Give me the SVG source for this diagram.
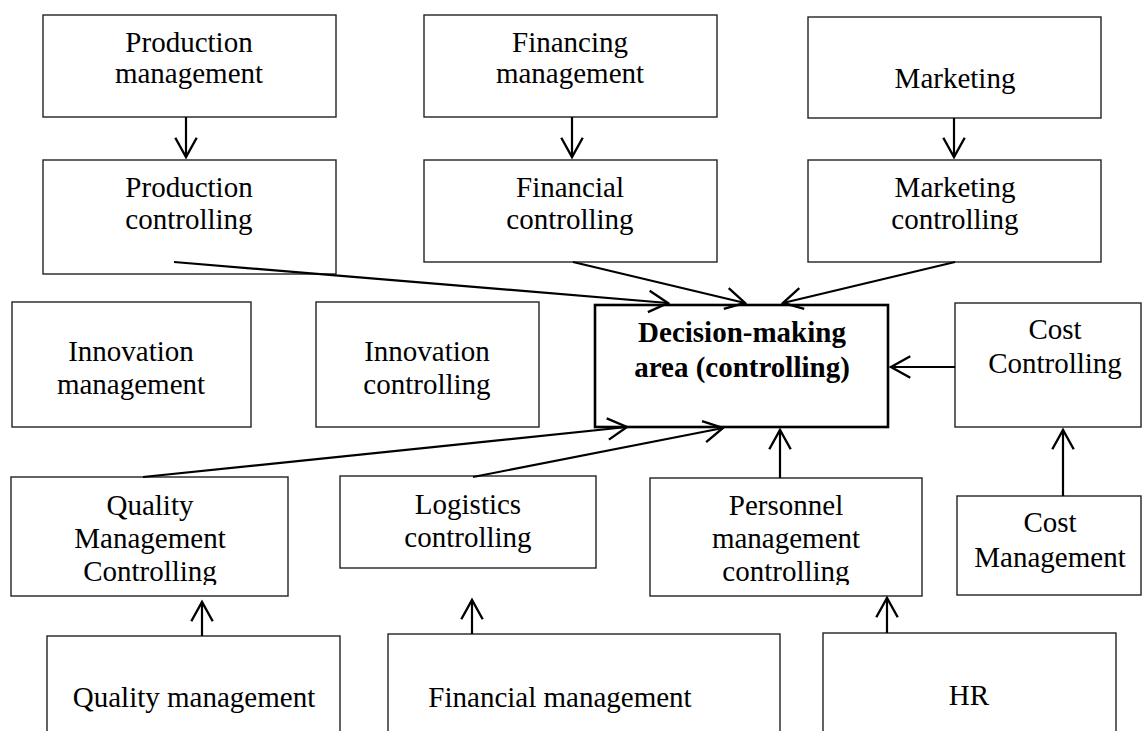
<svg xmlns="http://www.w3.org/2000/svg" width="1144" height="731" viewBox="0 0 1144 731">
<style>
.box{fill:#fff;stroke:#222;stroke-width:1.4}
.main{fill:#fff;stroke:#000;stroke-width:2.6}
.t{font-family:"Liberation Serif","Times New Roman",serif;font-size:29px;fill:#000;text-anchor:middle}
.b{font-weight:bold}
.c{fill:none;stroke:#000;stroke-width:2.2}
</style>
<defs>
<marker id="ah" markerUnits="userSpaceOnUse" markerWidth="30" markerHeight="30" refX="0" refY="0" viewBox="-22 -14 26 28" orient="auto" overflow="visible">
<path d="M-18,-10 L0,0 L-18,10" fill="none" stroke="#000" stroke-width="2.2"/>
</marker>
<clipPath id="clipQ"><rect x="0" y="0" width="1144" height="585"/></clipPath>
</defs>

<g id="production-management"><rect class="box" x="43" y="15" width="293" height="102"/><text class="t" x="189" y="52">Production</text><text class="t" x="189" y="83">management</text></g>
<g id="production-controlling"><rect class="box" x="43" y="160" width="293" height="114"/><text class="t" x="189" y="197">Production</text><text class="t" x="189" y="229">controlling</text></g>
<g id="financing-management"><rect class="box" x="424" y="15" width="293" height="102"/><text class="t" x="570" y="52">Financing</text><text class="t" x="570" y="83">management</text></g>
<g id="financial-controlling"><rect class="box" x="424" y="160" width="293" height="102"/><text class="t" x="570" y="197">Financial</text><text class="t" x="570" y="229">controlling</text></g>
<g id="marketing"><rect class="box" x="808" y="17" width="293" height="101"/><text class="t" x="955" y="88">Marketing</text></g>
<g id="marketing-controlling"><rect class="box" x="808" y="160" width="293" height="102"/><text class="t" x="955" y="197">Marketing</text><text class="t" x="955" y="229">controlling</text></g>
<g id="innovation-management"><rect class="box" x="12" y="302" width="239" height="125"/><text class="t" x="131" y="361">Innovation</text><text class="t" x="131" y="394">management</text></g>
<g id="innovation-controlling"><rect class="box" x="316" y="302" width="223" height="125"/><text class="t" x="427" y="361">Innovation</text><text class="t" x="427" y="394">controlling</text></g>
<g id="decision-area"><rect class="main" x="595" y="305" width="293" height="122"/><text class="t b" x="742" y="342">Decision-making</text><text class="t b" x="742" y="377">area (controlling)</text></g>
<g id="cost-controlling"><rect class="box" x="955" y="303" width="186" height="124"/><text class="t" x="1055" y="339">Cost</text><text class="t" x="1055" y="373">Controlling</text></g>
<g id="quality-management-controlling"><rect class="box" x="11" y="477" width="277" height="119"/><g clip-path="url(#clipQ)"><text class="t" x="150" y="515">Quality</text><text class="t" x="150" y="548">Management</text><text class="t" x="150" y="581">Controlling</text></g></g>
<g id="logistics-controlling"><rect class="box" x="340" y="476" width="256" height="92"/><text class="t" x="468" y="514">Logistics</text><text class="t" x="468" y="547">controlling</text></g>
<g id="personnel-management-controlling"><rect class="box" x="650" y="478" width="272" height="118"/><g clip-path="url(#clipQ)"><text class="t" x="786" y="515">Personnel</text><text class="t" x="786" y="548">management</text><text class="t" x="786" y="581">controlling</text></g></g>
<g id="cost-management"><rect class="box" x="957" y="496" width="184" height="99"/><text class="t" x="1050" y="532">Cost</text><text class="t" x="1050" y="567">Management</text></g>
<g id="quality-management"><rect class="box" x="47" y="636" width="293" height="110"/><text class="t" x="194" y="707">Quality management</text></g>
<g id="financial-management"><rect class="box" x="388" y="634" width="392" height="110"/><text class="t" x="560" y="707">Financial management</text></g>
<g id="hr"><rect class="box" x="823" y="633" width="293" height="110"/><text class="t" x="969" y="705">HR</text></g>

<g id="connectors">
<line class="c" x1="186" y1="117" x2="186" y2="157" marker-end="url(#ah)"/>
<line class="c" x1="572" y1="117" x2="572" y2="157" marker-end="url(#ah)"/>
<line class="c" x1="954" y1="118" x2="954" y2="157" marker-end="url(#ah)"/>
<line class="c" x1="174" y1="262" x2="668" y2="303" marker-end="url(#ah)"/>
<line class="c" x1="573" y1="262" x2="745" y2="303" marker-end="url(#ah)"/>
<line class="c" x1="955" y1="262" x2="783" y2="303" marker-end="url(#ah)"/>
<line class="c" x1="955" y1="367" x2="891" y2="367" marker-end="url(#ah)"/>
<line class="c" x1="143" y1="477" x2="627" y2="427" marker-end="url(#ah)"/>
<line class="c" x1="473" y1="477" x2="723" y2="428" marker-end="url(#ah)"/>
<line class="c" x1="780" y1="478" x2="780" y2="430" marker-end="url(#ah)"/>
<line class="c" x1="1063" y1="496" x2="1063" y2="430" marker-end="url(#ah)"/>
<line class="c" x1="202" y1="636" x2="202" y2="602" marker-end="url(#ah)"/>
<line class="c" x1="472" y1="634" x2="472" y2="600" marker-end="url(#ah)"/>
<line class="c" x1="887" y1="633" x2="887" y2="598" marker-end="url(#ah)"/>
</g>
</svg>
